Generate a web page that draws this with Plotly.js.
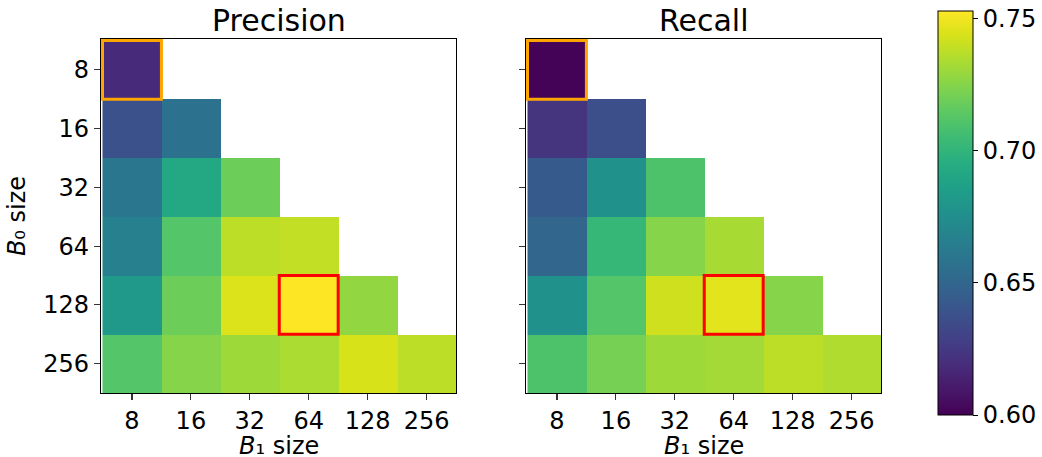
<!DOCTYPE html>
<html>
<head>
<meta charset="utf-8">
<script src="https://cdn.plot.ly/plotly-3.0.1.min.js"></script>
<style>html,body{margin:0;padding:0;background:#fff;}#chart{width:1042px;height:457px;}</style>
</head>
<body>
<div id="chart"></div>
<script>
// Categories
const b1Sizes = ["8", "16", "32", "64", "128", "256"];   // x (columns)
const b0Sizes = ["8", "16", "32", "64", "128", "256"];   // y (rows)

// Precision values (rows = B0 size, cols = B1 size), null = not evaluated
const precision = [
  [0.618, null,  null,  null,  null,  null],
  [0.638, 0.657, null,  null,  null,  null],
  [0.660, 0.692, 0.719, null,  null,  null],
  [0.666, 0.712, 0.738, 0.739, null,  null],
  [0.681, 0.719, 0.745, 0.753, 0.728, null],
  [0.712, 0.725, 0.731, 0.734, 0.744, 0.738]
];

// Recall values
const recall = [
  [0.601, null,  null,  null,  null,  null],
  [0.623, 0.637, null,  null,  null,  null],
  [0.643, 0.677, 0.710, null,  null,  null],
  [0.650, 0.702, 0.725, 0.733, null,  null],
  [0.677, 0.712, 0.742, 0.747, 0.725, null],
  [0.710, 0.721, 0.731, 0.732, 0.738, 0.735]
];

const colorTicks = [0.60, 0.65, 0.70, 0.75];
const zMin = 0.60, zMax = 0.753;

// Highlighted cells: [B0, B1]
const baselineCell = ["8", "8"];
const bestCell = ["128", "64"];

const font = "DejaVu Sans, sans-serif";
const fs = 24;

const traces = [
  {
    type: "heatmap", x: b1Sizes, y: b0Sizes, z: precision,
    xaxis: "x", yaxis: "y",
    colorscale: "Viridis", zmin: zMin, zmax: zMax, showscale: true,
    colorbar: {
      x: 938/1042, xanchor: "left", y: 42/457, yanchor: "bottom",
      len: 404, lenmode: "pixels", thickness: 35, thicknessmode: "pixels",
      xpad: 0, ypad: 0, outlinewidth: 1, outlinecolor: "#000",
      tickvals: colorTicks, ticktext: colorTicks.map(v => v.toFixed(2)),
      ticks: "outside", ticklen: 5, tickwidth: 1, tickcolor: "#000",
      tickfont: {family: font, size: fs, color: "#000"}
    },
    hoverongaps: false
  },
  {
    type: "heatmap", x: b1Sizes, y: b0Sizes, z: recall,
    xaxis: "x2", yaxis: "y2",
    colorscale: "Viridis", zmin: zMin, zmax: zMax, showscale: false,
    hoverongaps: false
  }
];

function rect(cell, color, xr, yr) {
  const yi = b0Sizes.indexOf(cell[0]);
  const xi = b1Sizes.indexOf(cell[1]);
  return {
    type: "rect", xref: xr, yref: yr,
    x0: xi - 0.5, x1: xi + 0.5, y0: yi - 0.5, y1: yi + 0.5,
    line: {color: color, width: 3}, fillcolor: "rgba(0,0,0,0)"
  };
}

const axBase = {
  type: "category",
  showline: true, linecolor: "#000", linewidth: 1.2, mirror: true,
  ticks: "outside", ticklen: 6, tickwidth: 1.2, tickcolor: "#333",
  showgrid: false, zeroline: false,
  tickfont: {family: font, size: fs, color: "#000"}
};

const titleFont = {family: font, size: fs, color: "#000"};

const layout = {
  width: 1042, height: 457,
  margin: {l: 0, r: 0, t: 0, b: 0},
  paper_bgcolor: "#fff", plot_bgcolor: "#fff",
  font: {family: font, color: "#000"},
  xaxis: Object.assign({}, axBase, {domain: [101/1042, 456/1042], anchor: "y"}),
  yaxis: Object.assign({}, axBase, {domain: [64/457, 418/457], anchor: "x", autorange: "reversed",
    title: {text: "<i>B</i>₀ size", font: titleFont, standoff: 10}}),
  xaxis2: Object.assign({}, axBase, {domain: [526/1042, 881/1042], anchor: "y2"}),
  yaxis2: Object.assign({}, axBase, {domain: [64/457, 418/457], anchor: "x2", autorange: "reversed", showticklabels: false}),
  annotations: [
    {text: "Precision", xref: "paper", yref: "paper", x: (101+456)/2/1042, y: 1 - 20/457,
     xanchor: "center", yanchor: "middle", showarrow: false, font: {family: font, size: 30, color: "#000"}},
    {text: "Recall", xref: "paper", yref: "paper", x: (526+881)/2/1042, y: 1 - 20/457,
     xanchor: "center", yanchor: "middle", showarrow: false, font: {family: font, size: 30, color: "#000"}},
    {text: "<i>B</i>₁ size", xref: "paper", yref: "paper", x: (101+456)/2/1042, y: 1 - 446/457,
     xanchor: "center", yanchor: "middle", showarrow: false, font: titleFont},
    {text: "<i>B</i>₁ size", xref: "paper", yref: "paper", x: (526+881)/2/1042, y: 1 - 446/457,
     xanchor: "center", yanchor: "middle", showarrow: false, font: titleFont}
  ],
  shapes: [
    rect(baselineCell, "#ffa500", "x", "y"),
    rect(bestCell, "#ff0000", "x", "y"),
    rect(baselineCell, "#ffa500", "x2", "y2"),
    rect(bestCell, "#ff0000", "x2", "y2")
  ]
};

Plotly.newPlot("chart", traces, layout, {staticPlot: true, displayModeBar: false});
</script>
</body>
</html>
